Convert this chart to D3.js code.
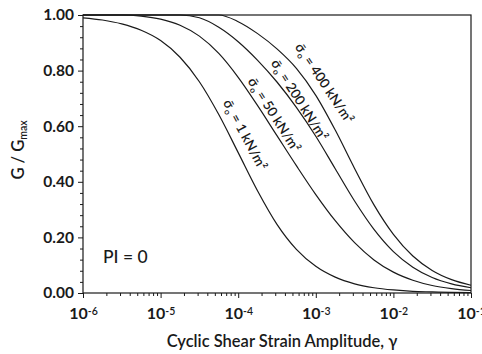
<!DOCTYPE html>
<html>
<head>
<meta charset="utf-8">
<script src="https://cdn.jsdelivr.net/npm/d3@7"></script>
<style>
  body { margin: 0; background: #fff; }
  svg { display: block; }
  text { font-family: Lato, "Open Sans", sans-serif; fill: #1a1a1a; }
</style>
</head>
<body>
<svg id="chart" width="482" height="354"></svg>
<script>
// Cyclic shear strain amplitude (quarter-decade steps)
const strain = [1.0e-6, 1.78e-6, 3.16e-6, 5.62e-6,
                1.0e-5, 1.78e-5, 3.16e-5, 5.62e-5,
                1.0e-4, 1.78e-4, 3.16e-4, 5.62e-4,
                1.0e-3, 1.78e-3, 3.16e-3, 5.62e-3,
                1.0e-2, 1.78e-2, 3.16e-2, 5.62e-2,
                1.0e-1];

// G/Gmax for each mean effective confining stress (kN/m²), PI = 0
const confiningStress = [1, 50, 200, 400];
const ratioAt1   = [0.990, 0.982, 0.968, 0.945, 0.908, 0.848, 0.760, 0.642, 0.505, 0.367, 0.247,
                    0.157, 0.096, 0.057, 0.033, 0.019, 0.011, 0.006, 0.004, 0.002, 0.001];
const ratioAt50  = [1.000, 1.000, 1.000, 0.996, 0.985, 0.963, 0.924, 0.862, 0.776, 0.674, 0.566,
                    0.458, 0.354, 0.260, 0.181, 0.119, 0.075, 0.046, 0.027, 0.016, 0.009];
const ratioAt200 = [1.000, 1.000, 1.000, 1.000, 1.000, 1.000, 0.990, 0.956, 0.904, 0.837, 0.759,
                    0.668, 0.564, 0.447, 0.331, 0.229, 0.149, 0.093, 0.056, 0.033, 0.019];
const ratioAt400 = [1.000, 1.000, 1.000, 1.000, 1.000, 1.000, 1.000, 1.000, 0.976, 0.933, 0.878,
                    0.808, 0.711, 0.586, 0.448, 0.317, 0.211, 0.133, 0.081, 0.048, 0.028];

// Axis ticks
const xMajorTicks = [1e-6, 1e-5, 1e-4, 1e-3, 1e-2, 1e-1];
const xTickExponents = ["-6", "-5", "-4", "-3", "-2", "-1"];
const yMajorTicks = [0, 0.2, 0.4, 0.6, 0.8, 1.0];

const series = [ratioAt1, ratioAt50, ratioAt200, ratioAt400];

// Curve annotation placement: start point (strain, ratio) and rotation
const labelPlacement = [
  { g: 6.3e-5, r: 0.685, angle: 62 },
  { g: 1.31e-4, r: 0.762, angle: 57.5 },
  { g: 2.6e-4, r: 0.827, angle: 57.5 },
  { g: 5.3e-4, r: 0.885, angle: 56 }
];

const svg = d3.select("#chart");
const plot = { left: 83, right: 471, top: 15, bottom: 293 };

const x = d3.scaleLog().domain([1e-6, 1e-1]).range([plot.left, plot.right]);
const y = d3.scaleLinear().domain([0, 1]).range([plot.bottom, plot.top]);

const ink = "#1a1a1a";

// Minor ticks: 2..9 within each decade, every 0.04 on the ratio axis
const xMinorTicks = [];
for (let e = -6; e < -1; e++) {
  for (let m = 2; m <= 9; m++) xMinorTicks.push(m * Math.pow(10, e));
}
const yMinorTicks = d3.range(1, 25).map(i => i * 0.04).filter(v => Math.abs(v * 5 - Math.round(v * 5)) > 1e-6);

// X axis
svg.append("g")
  .attr("transform", `translate(0,${plot.bottom})`)
  .call(d3.axisBottom(x).tickValues(xMinorTicks).tickSize(3).tickFormat(""));
const gx = svg.append("g")
  .attr("transform", `translate(0,${plot.bottom})`)
  .call(d3.axisBottom(x).tickValues(xMajorTicks).tickSize(5).tickPadding(10).tickFormat(() => "10"));

gx.selectAll(".tick text")
  .attr("font-size", 16).attr("font-weight", 700).attr("fill", ink)
  .attr("font-family", "Lato, sans-serif")
  .each(function (d, i) {
    d3.select(this).append("tspan")
      .attr("dy", "-0.42em").attr("font-size", 10.5).attr("font-weight", 600)
      .text(xTickExponents[i]);
  });

// Y axis
svg.append("g")
  .attr("transform", `translate(${plot.left},0)`)
  .call(d3.axisLeft(y).tickValues(yMinorTicks).tickSize(3).tickFormat(""));
const gy = svg.append("g")
  .attr("transform", `translate(${plot.left},0)`)
  .call(d3.axisLeft(y).tickValues(yMajorTicks).tickSize(5).tickPadding(4).tickFormat(d3.format(".2f")));

gy.selectAll(".tick text")
  .attr("font-size", 15.5).attr("font-weight", 700).attr("fill", ink)
  .attr("font-family", "Lato, sans-serif");

svg.selectAll(".domain").remove();
svg.selectAll(".tick line").attr("stroke", ink).attr("stroke-width", 1);

// Frame
svg.append("rect")
  .attr("x", plot.left).attr("y", plot.top)
  .attr("width", plot.right - plot.left).attr("height", plot.bottom - plot.top)
  .attr("fill", "none").attr("stroke", ink).attr("stroke-width", 1.2);

// Curves
const line = d3.line()
  .x((d, i) => x(strain[i]))
  .y(d => y(d))
  .curve(d3.curveMonotoneX);

svg.append("g").selectAll("path")
  .data(series)
  .join("path")
  .attr("d", d => line(d))
  .attr("fill", "none")
  .attr("stroke", ink)
  .attr("stroke-width", 1.2);

// Curve annotations
const labels = svg.append("g").selectAll("text")
  .data(confiningStress)
  .join("text")
  .attr("transform", (d, i) => {
    const p = labelPlacement[i];
    return `translate(${x(p.g)},${y(p.r)}) rotate(${p.angle})`;
  })
  .attr("font-size", 13.5)
  .attr("font-weight", 600)
  .attr("fill", ink);

labels.append("tspan").text("\u03C3\u0304");
labels.append("tspan").attr("font-size", 8.5).attr("dy", 3).text("o");
labels.append("tspan").attr("dy", -3).text(d => ` = ${d} kN/m\u00B2`);

// Plasticity index note
svg.append("text")
  .attr("x", 103).attr("y", 263)
  .attr("font-size", 17.5).attr("font-weight", 500)
  .text("PI = 0");

// Axis titles
svg.append("text")
  .attr("x", 282).attr("y", 347)
  .attr("text-anchor", "middle")
  .attr("font-size", 16.5).attr("font-weight", 600)
  .text("Cyclic Shear Strain Amplitude, \u03B3");

const yTitle = svg.append("text")
  .attr("transform", "translate(24,150) rotate(-90)")
  .attr("text-anchor", "middle")
  .attr("font-size", 16.5).attr("font-weight", 600);
yTitle.append("tspan").text("G / G");
yTitle.append("tspan").attr("font-size", 10.5).attr("dy", 3).text("max");
</script>
</body>
</html>
